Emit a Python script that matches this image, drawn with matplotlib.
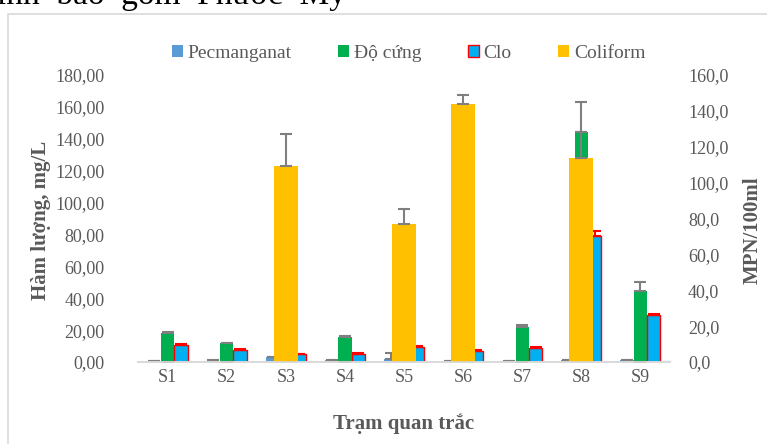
import numpy as np
import matplotlib.pyplot as plt
from matplotlib.patches import Rectangle, Patch
from matplotlib.ticker import FuncFormatter

plt.rcParams['font.family'] = ['Liberation Serif', 'DejaVu Serif']

# Monitoring stations
stations = ['S1', 'S2', 'S3', 'S4', 'S5', 'S6', 'S7', 'S8', 'S9']

# Left axis series (mg/L) and their error bars
pecmanganat = [0.5, 0.8, 2.9, 1.2, 1.9, 0.5, 0.5, 1.0, 1.0]
pecmanganat_err = [0.2, 0.2, 0.3, 0.3, 3.6, 0.2, 0.2, 0.3, 0.3]
do_cung = [18.4, 11.7, 0.0, 15.9, 0.0, 0.0, 22.0, 144.0, 44.7]
do_cung_err = [0.5, 0.5, 0.0, 0.6, 0.0, 0.0, 1.2, 0.5, 5.3]
clo = [10.7, 7.7, 4.8, 5.0, 9.6, 6.9, 9.0, 79.0, 29.7]
clo_err = [0.5, 0.5, 0.5, 0.5, 0.5, 0.5, 0.3, 3.2, 0.3]

# Right axis series (MPN/100ml)
coliform = [0.0, 0.0, 109.3, 0.0, 76.9, 143.8, 0.0, 113.5, 0.0]
coliform_err = [0.0, 0.0, 17.8, 0.0, 8.2, 5.2, 0.0, 31.6, 0.0]

blue = '#5B9BD5'
green = '#00B050'
cyan = '#00B0F0'
orange = '#FFC000'
txt = '#595959'
errc = '#7F7F7F'


def plus_only(err):
    # upper error bars only
    return [np.zeros(len(err)), err]


fig = plt.figure(figsize=(7.67, 4.44), dpi=100)
ax1 = fig.add_axes([0.18, 0.1847, 0.6935, 0.6463])
ax2 = ax1.twinx()

x = np.arange(len(stations))
w = 0.225
ekw = dict(elinewidth=1.5, capthick=1.5)

ax1.bar(x - w, pecmanganat, w, color=blue, yerr=plus_only(pecmanganat_err),
        ecolor=errc, capsize=4, error_kw=ekw)
ax1.bar(x, do_cung, w, color=green, yerr=plus_only(do_cung_err),
        ecolor=errc, capsize=4, error_kw=ekw)
ax1.bar(x + w, clo, w, color=cyan, edgecolor='#FF0000', linewidth=1,
        yerr=plus_only(clo_err), ecolor='#FF0000', capsize=4, error_kw=ekw)
ax2.bar(x, coliform, 0.41, color=orange, yerr=plus_only(coliform_err),
        ecolor=errc, capsize=4, error_kw=ekw)

ax1.set_xlim(-0.5, len(stations) - 0.5)
ax1.set_ylim(0, 180)
ax2.set_ylim(0, 160)
ax1.set_yticks(np.arange(0, 181, 20))
ax2.set_yticks(np.arange(0, 161, 20))
ax1.yaxis.set_major_formatter(FuncFormatter(lambda v, p: f'{v:.2f}'.replace('.', ',')))
ax2.yaxis.set_major_formatter(FuncFormatter(lambda v, p: f'{v:.1f}'.replace('.', ',')))
ax1.set_xticks(x)
ax1.set_xticklabels(stations)

for ax in (ax1, ax2):
    for s in ('top', 'left', 'right'):
        ax.spines[s].set_visible(False)
    ax.spines['bottom'].set_color('#D9D9D9')
    ax.spines['bottom'].set_linewidth(1.2)
    ax.tick_params(length=0, labelsize=13, labelcolor=txt)
ax1.tick_params(axis='y', pad=24)
ax1.tick_params(axis='x', pad=5)
ax2.tick_params(axis='y', pad=13)

ax1.set_ylabel('Hàm lượng, mg/L', fontsize=15, fontweight='bold', color=txt)
ax1.yaxis.set_label_coords(-0.164, 0.495)
ax2.set_ylabel('MPN/100ml', fontsize=15, fontweight='bold', color=txt)
ax2.yaxis.set_label_coords(1.137, 0.46)
ax1.set_xlabel('Trạm quan trắc', fontsize=15, fontweight='bold', color=txt)
ax1.xaxis.set_label_coords(0.5, -0.178)

handles = [Patch(facecolor=blue), Patch(facecolor=green),
           Patch(facecolor=cyan, edgecolor='#FF0000', linewidth=1),
           Patch(facecolor=orange)]
fig.legend(handles, ['Pecmanganat', 'Độ cứng', 'Clo', 'Coliform'],
           loc='center', bbox_to_anchor=(0.533, 0.88), ncol=4, frameon=False,
           fontsize=14, labelcolor=txt, handlelength=0.55, handleheight=0.55,
           handletextpad=0.25, columnspacing=2.4)

# chart border and the clipped line of document text above it
fig.patches.append(Rectangle((8 / 767, -0.05), 1.0, 1 - 14 / 444 + 0.05,
                             transform=fig.transFigure, fill=False,
                             edgecolor='#D9D9D9', linewidth=1.2))
fig.text(-0.004, 1 - 4 / 444, 'ình  bao  gồm  Phước  Mỹ', fontsize=24,
         color='black', va='baseline', ha='left')

fig.savefig('out.png', dpi=100)
